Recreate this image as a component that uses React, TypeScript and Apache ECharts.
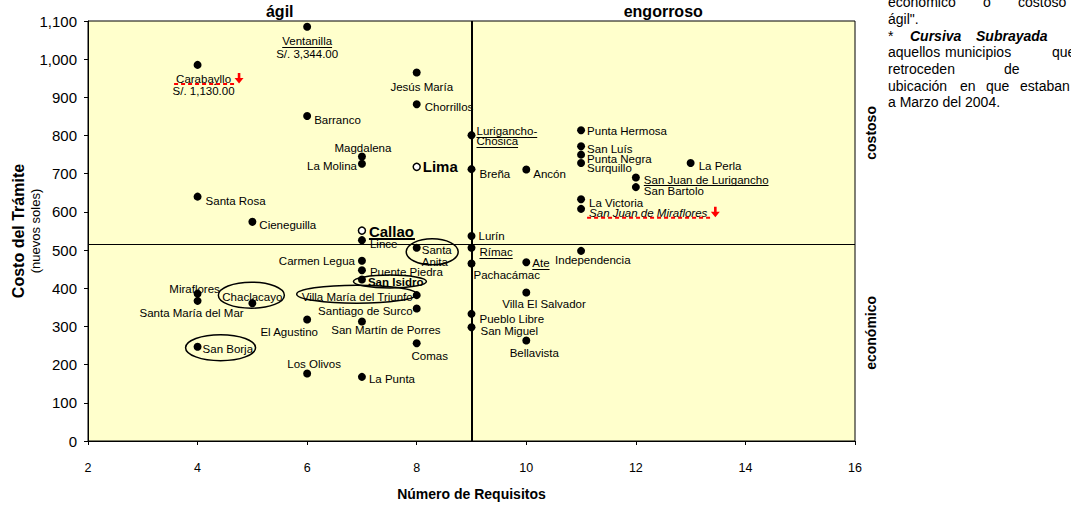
import React, { useEffect, useRef } from "react";
import * as echarts from "echarts";

const FONT = "'Liberation Sans', Arial, Helvetica, sans-serif";

// ---- data ----
const municipios = [
  "Ventanilla", "Carabayllo", "Jesús María", "Chorrillos", "Barranco", "Lurigancho-Chosica",
  "Magdalena", "La Molina", "Breña", "Ancón", "Punta Hermosa", "San Luís", "Punta Negra",
  "Surquillo", "La Perla", "San Juan de Lurigancho", "San Bartolo", "La Victoria",
  "San Juan de Miraflores", "Santa Rosa", "Cieneguilla", "Lince", "Lurín", "Santa Anita",
  "Rímac", "Independencia", "Carmen Legua", "Ate", "Pachacámac", "Puente Piedra", "San Isidro",
  "Villa El Salvador", "Miraflores", "Villa María del Triunfo", "Santa María del Mar",
  "Chaclacayo", "Santiago de Surco", "Pueblo Libre", "El Agustino", "San Martín de Porres",
  "San Miguel", "Bellavista", "Comas", "San Borja", "Los Olivos", "La Punta",
];
const requisitos = [
  6, 4, 8, 8, 6, 9,
  7, 7, 9, 10, 11, 11, 11,
  11, 13, 12, 12, 11,
  11, 4, 5, 7, 9, 8,
  9, 11, 7, 10, 9, 7, 7,
  10, 4, 8, 4,
  5, 8, 9, 6, 7,
  9, 10, 8, 4, 6, 7,
];
const costos = [
  1085, 985, 965, 882, 851, 801,
  745, 726, 712, 711, 814, 772, 750,
  728, 728, 690, 665, 633,
  608, 640, 574, 526, 537, 506,
  506, 498, 472, 468, 465, 447, 423,
  389, 386, 382, 367,
  361, 347, 333, 318, 313,
  298, 263, 256, 247, 177, 168,
];
const referencias = ["Lima", "Callao"];
const refRequisitos = [8, 7];
const refCostos = [718, 551];

const divisorRequisitos = 9;
const divisorCosto = 514;

const xMin = 2, xMax = 16, xInterval = 2;
const yMin = 0, yMax = 1100, yInterval = 100;

const textoMostrado: Record<string, string> = {
  Ventanilla: "Ventanilla\nS/. 3,344.00",
  Carabayllo: "Carabayllo\nS/. 1,130.00",
  "Lurigancho-Chosica": "Lurigancho-\nChosica",
  "Santa Anita": "Santa\nAnita",
};

// ---- layout / style (not data) ----
type Al = "left" | "center" | "right";
const labelLayout: Record<string, [number, number, Al]> = {
  Ventanilla: [0, 21, "center"],
  Carabayllo: [6, 20, "center"],
  "Jesús María": [5, 14, "center"],
  Chorrillos: [8, 3, "left"],
  Barranco: [7, 4, "left"],
  "Lurigancho-Chosica": [5, 1, "left"],
  Magdalena: [1, -9, "center"],
  "La Molina": [-5, 2, "right"],
  "Breña": [8, 5, "left"],
  "Ancón": [7, 4, "left"],
  "Punta Hermosa": [6, 1, "left"],
  "San Luís": [6, 3, "left"],
  "Punta Negra": [6, 4, "left"],
  Surquillo: [6, 5, "left"],
  "La Perla": [8, 3, "left"],
  "San Juan de Lurigancho": [8, 2, "left"],
  "San Bartolo": [8, 4, "left"],
  "La Victoria": [8, 4, "left"],
  "San Juan de Miraflores": [8, 4, "left"],
  "Santa Rosa": [8, 4, "left"],
  Cieneguilla: [7, 3, "left"],
  Lince: [8, 4, "left"],
  "Lurín": [7, 0, "left"],
  "Santa Anita": [5, 8, "left"],
  "Rímac": [8, 4, "left"],
  Independencia: [-26, 9, "left"],
  "Carmen Legua": [-7, 0, "right"],
  Ate: [6, 1, "left"],
  "Pachacámac": [2, 12, "left"],
  "Puente Piedra": [8, 2, "left"],
  "San Isidro": [6, 3, "left"],
  "Villa El Salvador": [-24, 12, "left"],
  Miraflores: [-3, -5, "center"],
  "Villa María del Triunfo": [-4, 2, "right"],
  "Santa María del Mar": [-6, 12, "center"],
  Chaclacayo: [0, -6, "center"],
  "Santiago de Surco": [-4, 2, "right"],
  "Pueblo Libre": [8, 5, "left"],
  "El Agustino": [-18, 12, "center"],
  "San Martín de Porres": [24, 9, "center"],
  "San Miguel": [9, 4, "left"],
  Bellavista: [8, 12, "center"],
  Comas: [13, 13, "center"],
  "San Borja": [5, 2, "left"],
  "Los Olivos": [7, -9, "center"],
  "La Punta": [7, 2, "left"],
  Lima: [6, 0, "left"],
  Callao: [7, 1, "left"],
};
const lineHeights: Record<string, number> = {
  Ventanilla: 13, Carabayllo: 12, "Lurigancho-Chosica": 10, "Santa Anita": 12.5,
};
const negrita = ["San Isidro"];
const cursiva = ["San Juan de Miraflores"];
const subrayado: Record<string, number[]> = {
  Ventanilla: [0], "Lurigancho-Chosica": [0, 1], "Rímac": [0], Ate: [0],
  "San Juan de Lurigancho": [0],
};
const marcaRoja = ["Carabayllo", "San Juan de Miraflores"];
const elipses: Record<string, [number, number, number, number]> = {
  "Santa Anita": [15.5, 4, 26, 13],
  "San Isidro": [28, 2, 36.5, 6.5],
  "Villa María del Triunfo": [-60, -1, 60, 9],
  Chaclacayo: [-1, -8, 33, 13],
  "San Borja": [23, 1, 35, 13],
};

const LABEL_SIZE = 11.5;

function labelFont(name: string, isRef: boolean) {
  const size = isRef ? 15 : LABEL_SIZE;
  const weight = isRef || negrita.includes(name) ? "bold" : "normal";
  const style = cursiva.includes(name) ? "italic" : "normal";
  return { size, weight, style };
}

function makeItem(name: string, x: number, y: number, isRef: boolean) {
  const [dx, dy, align] = labelLayout[name] || [6, 0, "left"];
  const f = labelFont(name, isRef);
  return {
    name,
    value: [x, y],
    label: {
      show: true,
      position: "inside",
      align,
      verticalAlign: "middle",
      offset: [dx, dy],
      formatter: textoMostrado[name] || name,
      fontSize: f.size,
      fontWeight: f.weight,
      fontStyle: f.style,
      fontFamily: FONT,
      color: "#000",
      lineHeight: lineHeights[name] || 13,
    },
  };
}

export default function App() {
  const ref = useRef<HTMLDivElement>(null);
  useEffect(() => {
    if (!ref.current) return;
    const chart = echarts.init(ref.current, null, { renderer: "svg" });
    const filled = municipios.map((n, i) => makeItem(n, requisitos[i], costos[i], false));
    const open = referencias.map((n, i) => makeItem(n, refRequisitos[i], refCostos[i], true));

    chart.setOption({
      animation: false,
      grid: {
        left: 88, right: 216, top: 21, bottom: 69,
        containLabel: false, outerBoundsMode: "none",
        show: true, backgroundColor: "#FFFFCC", borderColor: "#000", borderWidth: 1,
      },
      xAxis: {
        type: "value", min: xMin, max: xMax, interval: xInterval,
        name: "Número de Requisitos", nameLocation: "middle", nameGap: 46,
        nameMoveOverlap: false,
        nameTextStyle: { fontFamily: FONT, fontSize: 14, fontWeight: "bold", color: "#000" },
        axisLine: { show: true, lineStyle: { color: "#000", width: 1 } },
        axisTick: { show: true, length: 4, lineStyle: { color: "#000" } },
        axisLabel: { fontFamily: FONT, fontSize: 12.5, color: "#000", margin: 20 },
        splitLine: { show: false },
      },
      yAxis: {
        type: "value", min: yMin, max: yMax, interval: yInterval,
        name: "{b|Costo del Trámite}\n{n|(nuevos soles)}",
        nameLocation: "middle", nameRotate: 90, nameGap: 45,
        nameMoveOverlap: false,
        nameTextStyle: {
          fontFamily: FONT, color: "#000", lineHeight: 17,
          rich: {
            b: { fontFamily: FONT, fontSize: 16, fontWeight: "bold", color: "#000", lineHeight: 18 },
            n: { fontFamily: FONT, fontSize: 13, color: "#000", lineHeight: 16 },
          },
        },
        axisLine: { show: true, lineStyle: { color: "#000", width: 1 } },
        axisTick: { show: true, length: 4, lineStyle: { color: "#000" } },
        axisLabel: {
          fontFamily: FONT, fontSize: 15, color: "#000", margin: 11,
          formatter: (v: number) => v.toLocaleString("en-US"),
        },
        splitLine: { show: false },
      },
      series: [
        {
          type: "scatter",
          symbol: "circle",
          symbolSize: 8,
          itemStyle: { color: "#000", opacity: 1 },
          data: filled,
          z: 3,
          markLine: {
            silent: true,
            symbol: ["none", "none"],
            label: { show: false },
            lineStyle: { color: "#000", type: "solid", opacity: 1 },
            data: [
              { xAxis: divisorRequisitos, lineStyle: { width: 2, color: "#000", type: "solid" } },
              { yAxis: divisorCosto, lineStyle: { width: 1, color: "#000", type: "solid" } },
            ],
          },
        },
        {
          type: "scatter",
          symbol: "circle",
          symbolSize: 7,
          itemStyle: { color: "#fff", borderColor: "#000", borderWidth: 1.5, opacity: 1 },
          data: open,
          z: 4,
        },
      ],
    });

    // ---- annotations placed via the chart's own scales ----
    const canvas = document.createElement("canvas");
    const ctx = canvas.getContext("2d")!;
    const measure = (t: string, f: { size: number; weight: string; style: string }) => {
      ctx.font = `${f.style} ${f.weight} ${f.size}px 'Liberation Sans', Arial, sans-serif`;
      return ctx.measureText(t).width;
    };
    const toPx = (x: number, y: number) =>
      chart.convertToPixel({ xAxisIndex: 0, yAxisIndex: 0 }, [x, y]) as number[];

    const g: any[] = [];
    const allNames = [...municipios, ...referencias];
    const allX = [...requisitos, ...refRequisitos];
    const allY = [...costos, ...refCostos];

    allNames.forEach((name, i) => {
      const isRef = referencias.includes(name);
      const [px, py] = toPx(allX[i], allY[i]);
      const [dx, dy, align] = labelLayout[name] || [6, 0, "left"];
      const f = labelFont(name, isRef);
      const lines = (textoMostrado[name] || name).split("\n");
      const lh = lineHeights[name] || 13;
      const ax = px + dx;
      const ay = py + dy;
      const spans = lines.map((ln, k) => {
        const w = measure(ln, f);
        const cy = ay - (lines.length * lh) / 2 + lh * (k + 0.5);
        const x0 = align === "left" ? ax : align === "center" ? ax - w / 2 : ax - w;
        return { x0, x1: x0 + w, cy };
      });
      (subrayado[name] || []).forEach((k) => {
        const s = spans[k];
        const uy = Math.round(s.cy + f.size * 0.5) + 0.5;
        g.push({ type: "line", z: 50, silent: true,
          shape: { x1: s.x0, y1: uy, x2: s.x1, y2: uy },
          style: { stroke: "#000", lineWidth: 1 } });
      });
      if (name === "Callao") {
        const s = spans[0];
        const uy = s.cy + 7.5;
        g.push({ type: "line", z: 50, silent: true,
          shape: { x1: s.x0, y1: uy, x2: s.x1 + 1, y2: uy },
          style: { stroke: "#000", lineWidth: 2 } });
      }
      if (marcaRoja.includes(name)) {
        const s = spans[0];
        const uy = s.cy + 5;
        g.push({ type: "line", z: 51, silent: true,
          shape: { x1: s.x0 - 2, y1: uy, x2: s.x1 + 3, y2: uy },
          style: { stroke: "#FF0000", lineWidth: 2, lineDash: [4, 3] } });
        const axr = s.x1 + 8;
        const ayr = s.cy;
        g.push({ type: "polygon", z: 51, silent: true,
          shape: { points: [
            [axr - 1.3, ayr - 6], [axr + 1.3, ayr - 6], [axr + 1.3, ayr - 1],
            [axr + 4.5, ayr - 1], [axr, ayr + 4.5], [axr - 4.5, ayr - 1], [axr - 1.3, ayr - 1],
          ] },
          style: { fill: "#FF0000" } });
      }
      const e = elipses[name];
      if (e) {
        g.push({ type: "ellipse", z: 52, silent: true,
          shape: { cx: px + e[0], cy: py + e[1], rx: e[2], ry: e[3] },
          style: { fill: "none", stroke: "#000", lineWidth: 1.5 } });
      }
    });

    // quadrant titles
    const [tlx, tly] = toPx((xMin + divisorRequisitos) / 2, yMax);
    const [trx] = toPx((xMax + divisorRequisitos) / 2, yMax);
    const [rx, ryTop] = toPx(xMax, (yMax + divisorCosto) / 2);
    const [, ryBot] = toPx(xMax, (yMin + divisorCosto) / 2);
    const bold16 = { fontFamily: FONT, fontSize: 16, fontWeight: "bold", fill: "#000" };
    g.push({ type: "text", x: tlx, y: tly - 10, z: 60,
      style: { ...bold16, text: "ágil", align: "center", verticalAlign: "middle" } });
    g.push({ type: "text", x: trx, y: tly - 10, z: 60,
      style: { ...bold16, text: "engorroso", align: "center", verticalAlign: "middle" } });
    const boldSide = { fontFamily: FONT, fontSize: 14, fontWeight: "bold", fill: "#000" };
    g.push({ type: "text", x: rx + 16, y: ryTop, rotation: Math.PI / 2, z: 60,
      style: { ...boldSide, text: "costoso", align: "center", verticalAlign: "middle" } });
    g.push({ type: "text", x: rx + 16, y: ryBot - 10, rotation: Math.PI / 2, z: 60,
      style: { ...boldSide, text: "económico", align: "center", verticalAlign: "middle" } });

    // side note (justified paragraph clipped by the page edge)
    const note: [number, [string, number, boolean?][]][] = [
      [2, [["económico", 888], ["o", 983], ["costoso", 1018]]],
      [19, [["ágil\".", 888]]],
      [36, [["*", 888], ["Cursiva", 910, true], ["Subrayada", 976, true]]],
      [52, [["aquellos", 888], ["municipios", 945], ["que", 1052]]],
      [69, [["retroceden", 888], ["de", 1004]]],
      [86, [["ubicación", 888], ["en", 960], ["que", 986], ["estaban", 1020]]],
      [102, [["a Marzo del 2004.", 888]]],
    ];
    note.forEach(([y, words]) => {
      words.forEach(([t, x, bi]) => {
        g.push({ type: "text", x, y, z: 60,
          style: {
            text: t, fontFamily: FONT, fontSize: 14, fill: "#000",
            fontWeight: bi ? "bold" : "normal", fontStyle: bi ? "italic" : "normal",
            align: "left", verticalAlign: "middle",
          } });
      });
    });

    chart.setOption({ graphic: g });
    return () => chart.dispose();
  }, []);
  return (
    <div
      ref={ref}
      style={{ width: 1071, height: 510, position: "absolute", left: 0, top: 0, overflow: "hidden" }}
    />
  );
}
